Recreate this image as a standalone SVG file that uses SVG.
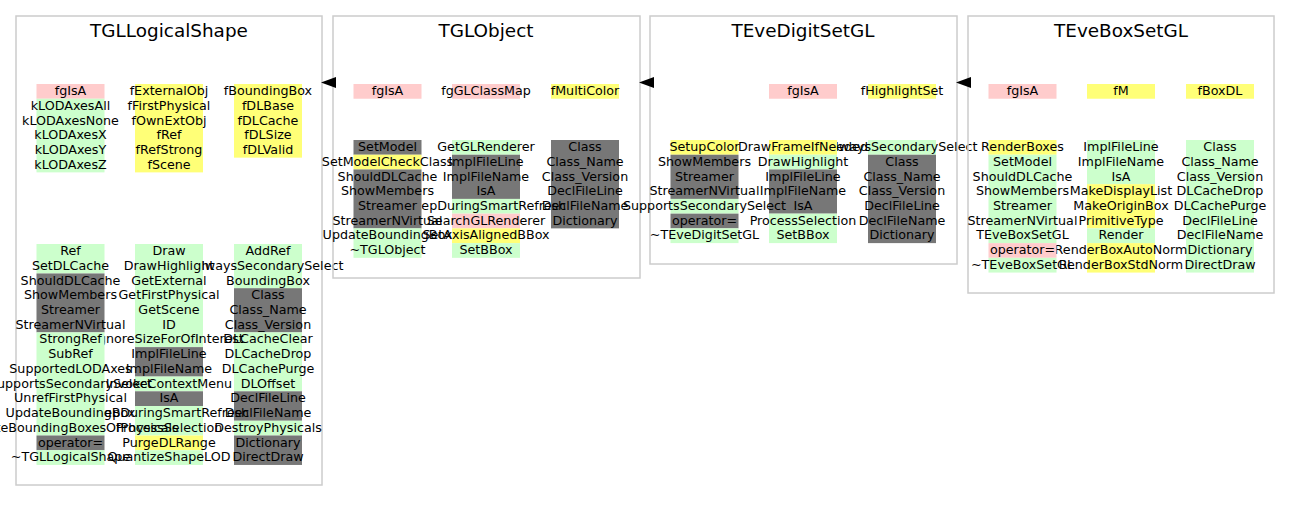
<svg xmlns="http://www.w3.org/2000/svg" width="1291" height="512" viewBox="0 0 1291 512">
<style>
.bg{fill:#ffffff}
.box{fill:none;stroke:#cccccc;stroke-width:1.5}
.t{font-family:'DejaVu Sans','Liberation Sans',sans-serif;font-size:12.7px;text-anchor:middle;fill:#000}
.title{font-family:'DejaVu Sans','Liberation Sans',sans-serif;font-size:18.4px;text-anchor:middle;fill:#000}
.p{fill:#ffcccc}
.g{fill:#ccffcc}
.y{fill:#ffff77}
.d{fill:#777777}
.arrow{fill:#000}
</style>
<rect class="bg" x="0" y="0" width="1291" height="512"/>

<g id="TGLLogicalShape">
<rect class="box" x="16" y="16" width="306" height="469"/>
<text class="title" x="169" y="37">TGLLogicalShape</text>
<!-- col3 -->
<rect class="y" x="234" y="84" width="68" height="73.65"/>
<g class="t">
<text x="268" y="95">fBoundingBox</text>
<text x="268" y="109.7">fDLBase</text>
<text x="268" y="124.5">fDLCache</text>
<text x="268" y="139.2">fDLSize</text>
<text x="268" y="153.9">fDLValid</text>
</g>
<rect class="g" x="234" y="244" width="68" height="44.19"/>
<rect class="d" x="234" y="288.19" width="68" height="44.19"/>
<rect class="g" x="234" y="332.38" width="68" height="58.92"/>
<rect class="d" x="234" y="391.3" width="68" height="29.46"/>
<rect class="g" x="234" y="420.76" width="68" height="14.73"/>
<rect class="d" x="234" y="435.49" width="68" height="29.46"/>
<g class="t">
<text x="268" y="255">AddRef</text>
<text x="268" y="269.7">AlwaysSecondarySelect</text>
<text x="268" y="284.5">BoundingBox</text>
<text x="268" y="299.2">Class</text>
<text x="268" y="313.9">Class_Name</text>
<text x="268" y="328.7">Class_Version</text>
<text x="268" y="343.4">DLCacheClear</text>
<text x="268" y="358.1">DLCacheDrop</text>
<text x="268" y="372.8">DLCachePurge</text>
<text x="268" y="387.6">DLOffset</text>
<text x="268" y="402.3">DeclFileLine</text>
<text x="268" y="417">DeclFileName</text>
<text x="268" y="431.8">DestroyPhysicals</text>
<text x="268" y="446.5">Dictionary</text>
<text x="268" y="461.2">DirectDraw</text>
</g>
<!-- col2 -->
<rect class="y" x="135" y="84" width="68" height="88.38"/>
<g class="t">
<text x="169" y="95">fExternalObj</text>
<text x="169" y="109.7">fFirstPhysical</text>
<text x="169" y="124.5">fOwnExtObj</text>
<text x="169" y="139.2">fRef</text>
<text x="169" y="153.9">fRefStrong</text>
<text x="169" y="168.7">fScene</text>
</g>
<rect class="g" x="135" y="244" width="68" height="103.11"/>
<rect class="d" x="135" y="347.11" width="68" height="29.46"/>
<rect class="g" x="135" y="376.57" width="68" height="14.73"/>
<rect class="d" x="135" y="391.3" width="68" height="14.73"/>
<rect class="g" x="135" y="406.03" width="68" height="29.46"/>
<rect class="y" x="135" y="435.49" width="68" height="14.73"/>
<rect class="g" x="135" y="450.22" width="68" height="14.73"/>
<g class="t">
<text x="169" y="255">Draw</text>
<text x="169" y="269.7">DrawHighlight</text>
<text x="169" y="284.5">GetExternal</text>
<text x="169" y="299.2">GetFirstPhysical</text>
<text x="169" y="313.9">GetScene</text>
<text x="169" y="328.7">ID</text>
<text x="169" y="343.4">IgnoreSizeForOfInterest</text>
<text x="169" y="358.1">ImplFileLine</text>
<text x="169" y="372.8">ImplFileName</text>
<text x="169" y="387.6">InvokeContextMenu</text>
<text x="169" y="402.3">IsA</text>
<text x="169" y="417">KeepDuringSmartRefresh</text>
<text x="169" y="431.8">ProcessSelection</text>
<text x="169" y="446.5">PurgeDLRange</text>
<text x="169" y="461.2">QuantizeShapeLOD</text>
</g>
<!-- col1 -->
<rect class="p" x="36.5" y="84" width="68" height="14.73"/>
<rect class="g" x="36.5" y="98.73" width="68" height="73.65"/>
<g class="t">
<text x="70.5" y="95">fgIsA</text>
<text x="70.5" y="109.7">kLODAxesAll</text>
<text x="70.5" y="124.5">kLODAxesNone</text>
<text x="70.5" y="139.2">kLODAxesX</text>
<text x="70.5" y="153.9">kLODAxesY</text>
<text x="70.5" y="168.7">kLODAxesZ</text>
</g>
<rect class="g" x="36.5" y="244" width="68" height="29.46"/>
<rect class="d" x="36.5" y="273.46" width="68" height="58.92"/>
<rect class="g" x="36.5" y="332.38" width="68" height="103.11"/>
<rect class="d" x="36.5" y="435.49" width="68" height="14.73"/>
<rect class="g" x="36.5" y="450.22" width="68" height="14.73"/>
<g class="t">
<text x="70.5" y="255">Ref</text>
<text x="70.5" y="269.7">SetDLCache</text>
<text x="70.5" y="284.5">ShouldDLCache</text>
<text x="70.5" y="299.2">ShowMembers</text>
<text x="70.5" y="313.9">Streamer</text>
<text x="70.5" y="328.7">StreamerNVirtual</text>
<text x="70.5" y="343.4">StrongRef</text>
<text x="70.5" y="358.1">SubRef</text>
<text x="70.5" y="372.8">SupportedLODAxes</text>
<text x="70.5" y="387.6">SupportsSecondarySelect</text>
<text x="70.5" y="402.3">UnrefFirstPhysical</text>
<text x="70.5" y="417">UpdateBoundingBox</text>
<text x="70.5" y="431.8">UpdateBoundingBoxesOfPhysicals</text>
<text x="70.5" y="446.5">operator=</text>
<text x="70.5" y="461.2">~TGLLogicalShape</text>
</g>
</g>

<g id="TGLObject">
<rect class="box" x="333" y="16" width="307" height="262"/>
<text class="title" x="486" y="37">TGLObject</text>
<!-- col3 -->
<rect class="y" x="551" y="84" width="68" height="14.73"/>
<text class="t" x="585" y="95">fMultiColor</text>
<rect class="d" x="551" y="140" width="68" height="88.38"/>
<g class="t">
<text x="585" y="151">Class</text>
<text x="585" y="165.7">Class_Name</text>
<text x="585" y="180.5">Class_Version</text>
<text x="585" y="195.2">DeclFileLine</text>
<text x="585" y="209.9">DeclFileName</text>
<text x="585" y="224.7">Dictionary</text>
</g>
<!-- col2 -->
<rect class="p" x="452" y="84" width="68" height="14.73"/>
<text class="t" x="486" y="95">fgGLClassMap</text>
<rect class="g" x="452" y="140" width="68" height="14.73"/>
<rect class="d" x="452" y="154.73" width="68" height="44.19"/>
<rect class="g" x="452" y="198.92" width="68" height="14.73"/>
<rect class="p" x="452" y="213.65" width="68" height="14.73"/>
<rect class="y" x="452" y="228.38" width="68" height="14.73"/>
<rect class="g" x="452" y="243.11" width="68" height="14.73"/>
<g class="t">
<text x="486" y="151">GetGLRenderer</text>
<text x="486" y="165.7">ImplFileLine</text>
<text x="486" y="180.5">ImplFileName</text>
<text x="486" y="195.2">IsA</text>
<text x="486" y="209.9">KeepDuringSmartRefresh</text>
<text x="486" y="224.7">SearchGLRenderer</text>
<text x="486" y="239.4">SetAxisAlignedBBox</text>
<text x="486" y="254.1">SetBBox</text>
</g>
<!-- col1 -->
<rect class="p" x="353.5" y="84" width="68" height="14.73"/>
<text class="t" x="387.5" y="95">fgIsA</text>
<rect class="d" x="353.5" y="140" width="68" height="14.73"/>
<rect class="y" x="353.5" y="154.73" width="68" height="14.73"/>
<rect class="d" x="353.5" y="169.46" width="68" height="58.92"/>
<rect class="g" x="353.5" y="228.38" width="68" height="29.46"/>
<g class="t">
<text x="387.5" y="151">SetModel</text>
<text x="387.5" y="165.7">SetModelCheckClass</text>
<text x="387.5" y="180.5">ShouldDLCache</text>
<text x="387.5" y="195.2">ShowMembers</text>
<text x="387.5" y="209.9">Streamer</text>
<text x="387.5" y="224.7">StreamerNVirtual</text>
<text x="387.5" y="239.4">UpdateBoundingBox</text>
<text x="387.5" y="254.1">~TGLObject</text>
</g>
</g>

<g id="TEveDigitSetGL">
<rect class="box" x="650" y="16" width="307" height="248"/>
<text class="title" x="803" y="37">TEveDigitSetGL</text>
<!-- col3 -->
<rect class="y" x="868" y="84" width="68" height="14.73"/>
<text class="t" x="902" y="95">fHighlightSet</text>
<rect class="g" x="868" y="140" width="68" height="14.73"/>
<rect class="d" x="868" y="154.73" width="68" height="88.38"/>
<g class="t">
<text x="902" y="151">AlwaysSecondarySelect</text>
<text x="902" y="165.7">Class</text>
<text x="902" y="180.5">Class_Name</text>
<text x="902" y="195.2">Class_Version</text>
<text x="902" y="209.9">DeclFileLine</text>
<text x="902" y="224.7">DeclFileName</text>
<text x="902" y="239.4">Dictionary</text>
</g>
<!-- col2 -->
<rect class="p" x="769" y="84" width="68" height="14.73"/>
<text class="t" x="803" y="95">fgIsA</text>
<rect class="y" x="769" y="140" width="68" height="14.73"/>
<rect class="g" x="769" y="154.73" width="68" height="14.73"/>
<rect class="d" x="769" y="169.46" width="68" height="44.19"/>
<rect class="g" x="769" y="213.65" width="68" height="29.46"/>
<g class="t">
<text x="803" y="151">DrawFrameIfNeeded</text>
<text x="803" y="165.7">DrawHighlight</text>
<text x="803" y="180.5">ImplFileLine</text>
<text x="803" y="195.2">ImplFileName</text>
<text x="803" y="209.9">IsA</text>
<text x="803" y="224.7">ProcessSelection</text>
<text x="803" y="239.4">SetBBox</text>
</g>
<!-- col1 -->
<rect class="y" x="670.5" y="140" width="68" height="14.73"/>
<rect class="d" x="670.5" y="154.73" width="68" height="44.19"/>
<rect class="g" x="670.5" y="198.92" width="68" height="14.73"/>
<rect class="d" x="670.5" y="213.65" width="68" height="14.73"/>
<rect class="g" x="670.5" y="228.38" width="68" height="14.73"/>
<g class="t">
<text x="704.5" y="151">SetupColor</text>
<text x="704.5" y="165.7">ShowMembers</text>
<text x="704.5" y="180.5">Streamer</text>
<text x="704.5" y="195.2">StreamerNVirtual</text>
<text x="704.5" y="209.9">SupportsSecondarySelect</text>
<text x="704.5" y="224.7">operator=</text>
<text x="704.5" y="239.4">~TEveDigitSetGL</text>
</g>
</g>

<g id="TEveBoxSetGL">
<rect class="box" x="968" y="16" width="306" height="277"/>
<text class="title" x="1121" y="37">TEveBoxSetGL</text>
<!-- col3 -->
<rect class="y" x="1186" y="84" width="68" height="14.73"/>
<text class="t" x="1220" y="95">fBoxDL</text>
<rect class="g" x="1186" y="140" width="68" height="132.57"/>
<g class="t">
<text x="1220" y="151">Class</text>
<text x="1220" y="165.7">Class_Name</text>
<text x="1220" y="180.5">Class_Version</text>
<text x="1220" y="195.2">DLCacheDrop</text>
<text x="1220" y="209.9">DLCachePurge</text>
<text x="1220" y="224.7">DeclFileLine</text>
<text x="1220" y="239.4">DeclFileName</text>
<text x="1220" y="254.1">Dictionary</text>
<text x="1220" y="268.8">DirectDraw</text>
</g>
<!-- col2 -->
<rect class="y" x="1087" y="84" width="68" height="14.73"/>
<text class="t" x="1121" y="95">fM</text>
<rect class="g" x="1087" y="140" width="68" height="44.19"/>
<rect class="y" x="1087" y="184.19" width="68" height="44.19"/>
<rect class="g" x="1087" y="228.38" width="68" height="14.73"/>
<rect class="y" x="1087" y="243.11" width="68" height="29.46"/>
<g class="t">
<text x="1121" y="151">ImplFileLine</text>
<text x="1121" y="165.7">ImplFileName</text>
<text x="1121" y="180.5">IsA</text>
<text x="1121" y="195.2">MakeDisplayList</text>
<text x="1121" y="209.9">MakeOriginBox</text>
<text x="1121" y="224.7">PrimitiveType</text>
<text x="1121" y="239.4">Render</text>
<text x="1121" y="254.1">RenderBoxAutoNorm</text>
<text x="1121" y="268.8">RenderBoxStdNorm</text>
</g>
<!-- col1 -->
<rect class="p" x="988.5" y="84" width="68" height="14.73"/>
<text class="t" x="1022.5" y="95">fgIsA</text>
<rect class="y" x="988.5" y="140" width="68" height="14.73"/>
<rect class="g" x="988.5" y="154.73" width="68" height="88.38"/>
<rect class="p" x="988.5" y="243.11" width="68" height="14.73"/>
<rect class="g" x="988.5" y="257.84" width="68" height="14.73"/>
<g class="t">
<text x="1022.5" y="151">RenderBoxes</text>
<text x="1022.5" y="165.7">SetModel</text>
<text x="1022.5" y="180.5">ShouldDLCache</text>
<text x="1022.5" y="195.2">ShowMembers</text>
<text x="1022.5" y="209.9">Streamer</text>
<text x="1022.5" y="224.7">StreamerNVirtual</text>
<text x="1022.5" y="239.4">TEveBoxSetGL</text>
<text x="1022.5" y="254.1">operator=</text>
<text x="1022.5" y="268.8">~TEveBoxSetGL</text>
</g>
</g>

<g id="connectors">
<polygon class="arrow" points="321,82.5 336,77 336,88"/>
<polygon class="arrow" points="639,82.5 654,77 654,88"/>
<polygon class="arrow" points="956,82.5 971,77 971,88"/>
</g>
</svg>
